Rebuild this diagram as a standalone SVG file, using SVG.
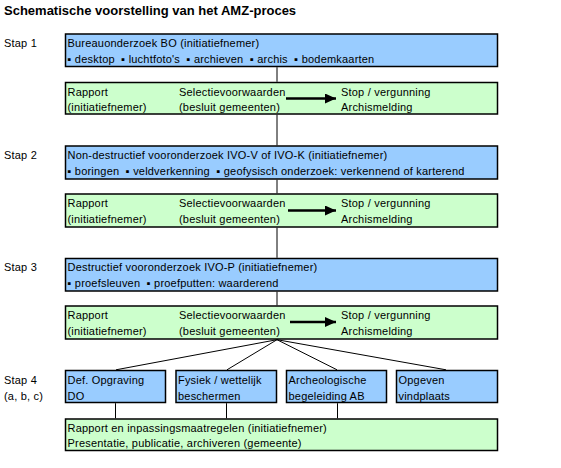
<svg xmlns="http://www.w3.org/2000/svg" width="561" height="468" viewBox="0 0 561 468">
<defs>
<style>
text{font-family:"Liberation Sans",Arial,sans-serif;font-size:11px;letter-spacing:0.2px;fill:#000;white-space:pre}
.title{font-size:13px;font-weight:bold;letter-spacing:0}
.blue{fill:#99CCFF;stroke:#000;stroke-width:1.5}
.green{fill:#CCFFCC;stroke:#000;stroke-width:1.5}
.conn{stroke:#000;stroke-width:1;fill:none}
.arr{stroke:#000;stroke-width:2.5;fill:none}
</style>
<marker id="ah" markerUnits="userSpaceOnUse" markerWidth="12" markerHeight="10" refX="11" refY="5" orient="auto">
<path d="M0,0 L11,5 L0,10 Z" fill="#000"/>
</marker>
</defs>
<rect width="561" height="468" fill="#fff"/>
<text class="title" x="4" y="15">Schematische voorstelling van het AMZ-proces</text>

<g id="labels">
<text x="4" y="46.5">Stap 1</text>
<text x="4" y="158.5">Stap 2</text>
<text x="4" y="270.5">Stap 3</text>
<text x="4" y="384">Stap 4</text>
<text x="4" y="400">(a, b, c)</text>
</g>

<g id="bo">
<rect class="blue" x="65.5" y="34" width="432" height="32.5"/>
<text x="67.5" y="46.5">Bureauonderzoek BO (initiatiefnemer)</text>
<text x="67.5" y="63" xml:space="preserve">▪ desktop  ▪ luchtfoto's  ▪ archieven  ▪ archis  ▪ bodemkaarten</text>
</g>
<g id="sel1">
<rect class="green" x="65.5" y="82.5" width="432" height="31.5"/>
<text x="67.5" y="95.5">Rapport</text>
<text x="67.5" y="110.5">(initiatiefnemer)</text>
<text x="179" y="95.5">Selectievoorwaarden</text>
<text x="179" y="110.5">(besluit gemeenten)</text>
<text x="341" y="95.5">Stop / vergunning</text>
<text x="341" y="110.5">Archismelding</text>
</g>

<g id="ivo-vk">
<rect class="blue" x="65.5" y="146" width="432" height="33"/>
<text x="67.5" y="158.5">Non-destructief vooronderzoek IVO-V of IVO-K (initiatiefnemer)</text>
<text x="67.5" y="175" xml:space="preserve">▪ boringen  ▪ veldverkenning  ▪ geofysisch onderzoek: verkennend of karterend</text>
</g>
<g id="sel2">
<rect class="green" x="65.5" y="194" width="432" height="33"/>
<text x="67.5" y="207">Rapport</text>
<text x="67.5" y="222.5">(initiatiefnemer)</text>
<text x="179" y="207">Selectievoorwaarden</text>
<text x="179" y="222.5">(besluit gemeenten)</text>
<text x="341" y="207">Stop / vergunning</text>
<text x="341" y="222.5">Archismelding</text>
</g>

<g id="ivo-p">
<rect class="blue" x="65.5" y="258.5" width="432" height="32.5"/>
<text x="67.5" y="270.5">Destructief vooronderzoek IVO-P (initiatiefnemer)</text>
<text x="67.5" y="287" xml:space="preserve">▪ proefsleuven  ▪ proefputten: waarderend</text>
</g>
<g id="sel3">
<rect class="green" x="65.5" y="306" width="432" height="33"/>
<text x="67.5" y="319">Rapport</text>
<text x="67.5" y="334.5">(initiatiefnemer)</text>
<text x="179" y="319">Selectievoorwaarden</text>
<text x="179" y="334.5">(besluit gemeenten)</text>
<text x="341" y="319">Stop / vergunning</text>
<text x="341" y="334.5">Archismelding</text>
</g>

<g id="do">
<rect class="blue" x="65.5" y="370.5" width="100" height="32"/>
<text x="67.5" y="384">Def. Opgraving</text>
<text x="67.5" y="400">DO</text>
</g>
<g id="fysiek">
<rect class="blue" x="176" y="370.5" width="100.5" height="32"/>
<text x="178" y="384">Fysiek / wettelijk</text>
<text x="178" y="400">beschermen</text>
</g>
<g id="ab">
<rect class="blue" x="286.5" y="370.5" width="100" height="32"/>
<text x="288.5" y="384">Archeologische</text>
<text x="288.5" y="400">begeleiding AB</text>
</g>
<g id="vindplaats">
<rect class="blue" x="396.5" y="370.5" width="101" height="32"/>
<text x="398.5" y="384">Opgeven</text>
<text x="398.5" y="400">vindplaats</text>
</g>

<g id="rapport">
<rect class="green" x="65.5" y="419" width="432" height="31.5"/>
<text x="67.5" y="431.5">Rapport en inpassingsmaatregelen (initiatiefnemer)</text>
<text x="67.5" y="447">Presentatie, publicatie, archiveren (gemeente)</text>
</g>

<g id="connectors">
<line class="conn" x1="277" y1="67.2" x2="277" y2="81.8"/>
<line class="conn" x1="277" y1="114.7" x2="277" y2="145.3"/>
<line class="conn" x1="277" y1="179.7" x2="277" y2="193.3"/>
<line class="conn" x1="277" y1="227.7" x2="277" y2="257.8"/>
<line class="conn" x1="277" y1="291.7" x2="277" y2="305.3"/>
<line class="conn" x1="277" y1="339.7" x2="116" y2="369.8"/>
<line class="conn" x1="277" y1="339.7" x2="227" y2="369.8"/>
<line class="conn" x1="277" y1="339.7" x2="337" y2="369.8"/>
<line class="conn" x1="277" y1="339.7" x2="446" y2="369.8"/>
<line class="conn" x1="115.5" y1="403.2" x2="115.5" y2="418.3"/>
<line class="conn" x1="226.5" y1="403.2" x2="226.5" y2="418.3"/>
<line class="conn" x1="337.5" y1="403.2" x2="337.5" y2="418.3"/>
<line class="arr" x1="286" y1="98.5" x2="336" y2="98.5" marker-end="url(#ah)"/>
<line class="arr" x1="288" y1="210.5" x2="336" y2="210.5" marker-end="url(#ah)"/>
<line class="arr" x1="290" y1="322" x2="336" y2="322" marker-end="url(#ah)"/>
</g>
</svg>
